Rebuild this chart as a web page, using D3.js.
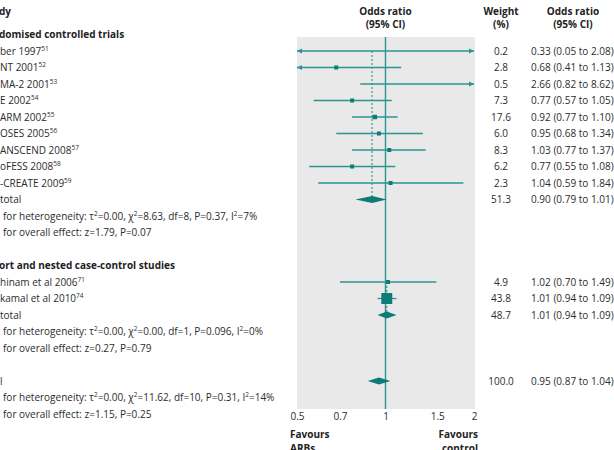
<!DOCTYPE html>
<html lang="en">
<head>
    <meta charset="utf-8">
    <title>Forest plot</title>
    <script src="https://d3js.org/d3.v7.min.js"></script>
    <style>
        body { margin: 0; background: #fff; }
        text { font-family: "Open Sans", sans-serif; font-size: 10px; fill: #2b2b2b; }
        .bold { font-weight: bold; fill: #222; }
    </style>
</head>
<body>
<div id="chart"></div>
<script>
    // Data (left labels are cropped in the original)
    const rctStudies = ["ber 1997", "NT 2001", "MA-2 2001", "E 2002", "ARM 2002", "OSES 2005", "ANSCEND 2008", "oFESS 2008", "-CREATE 2009"];
    const rctRefs = ["51", "52", "53", "54", "55", "56", "57", "58", "59"];
    const rctOR = [0.33, 0.68, 2.66, 0.77, 0.92, 0.95, 1.03, 0.77, 1.04];
    const rctLow = [0.05, 0.41, 0.82, 0.57, 0.77, 0.68, 0.77, 0.55, 0.59];
    const rctHigh = [2.08, 1.13, 8.62, 1.05, 1.10, 1.34, 1.37, 1.08, 1.84];
    const rctWeight = [0.2, 2.8, 0.5, 7.3, 17.6, 6.0, 8.3, 6.2, 2.3];

    const cohortStudies = ["hinam et al 2006", "kamal et al 2010"];
    const cohortRefs = ["71", "74"];
    const cohortOR = [1.02, 1.01];
    const cohortLow = [0.70, 0.94];
    const cohortHigh = [1.49, 1.09];
    const cohortWeight = [4.9, 43.8];

    // pooled: RCT subtotal, cohort subtotal, total
    const pooledLabels = ["total", "total", "l"];
    const pooledOR = [0.90, 1.01, 0.95];
    const pooledLow = [0.79, 0.94, 0.87];
    const pooledHigh = [1.01, 1.09, 1.04];
    const pooledWeight = [51.3, 48.7, 100.0];
    const heterogeneity = [
        "for heterogeneity: τ²=0.00, χ²=8.63, df=8, P=0.37, I²=7%",
        "for heterogeneity: τ²=0.00, χ²=0.00, df=1, P=0.096, I²=0%",
        "for heterogeneity: τ²=0.00, χ²=11.62, df=10, P=0.31, I²=14%"
    ];
    const overallEffect = [
        "for overall effect: z=1.79, P=0.07",
        "for overall effect: z=0.27, P=0.79",
        "for overall effect: z=1.15, P=0.25"
    ];
    const groupHeaders = ["domised controlled trials", "ort and nested case-control studies"];
    const tickValues = [0.5, 0.7, 1, 1.5, 2];

    const W = 614, H = 450;
    const svg = d3.select("#chart").append("svg")
        .attr("width", W).attr("height", H);

    const x = d3.scaleLog().domain([0.5, 2]).range([297, 474]);
    const y = d3.scaleLinear().domain([0, 23]).range([34.5, 414]);
    const fmt = d3.format(".2f");
    const colLine = "#2b9590", colMark = "#0e7b76";

    // build row list
    const rows = [];
    rows.push({k: 0, type: "header", text: groupHeaders[0]});
    rctStudies.forEach((s, i) => rows.push({k: i + 1, type: "study", text: s, ref: rctRefs[i],
        or: rctOR[i], lo: rctLow[i], hi: rctHigh[i], w: rctWeight[i]}));
    rows.push({k: 10, type: "pooled", text: pooledLabels[0], or: pooledOR[0], lo: pooledLow[0], hi: pooledHigh[0], w: pooledWeight[0]});
    rows.push({k: 11, type: "note", text: heterogeneity[0]});
    rows.push({k: 12, type: "note", text: overallEffect[0]});
    rows.push({k: 14, type: "header", text: groupHeaders[1]});
    cohortStudies.forEach((s, i) => rows.push({k: i + 15, type: "study", text: s, ref: cohortRefs[i],
        or: cohortOR[i], lo: cohortLow[i], hi: cohortHigh[i], w: cohortWeight[i]}));
    rows.push({k: 17, type: "pooled", text: pooledLabels[1], or: pooledOR[1], lo: pooledLow[1], hi: pooledHigh[1], w: pooledWeight[1]});
    rows.push({k: 18, type: "note", text: heterogeneity[1]});
    rows.push({k: 19, type: "note", text: overallEffect[1]});
    rows.push({k: 21, type: "pooled", text: pooledLabels[2], or: pooledOR[2], lo: pooledLow[2], hi: pooledHigh[2], w: pooledWeight[2]});
    rows.push({k: 22, type: "note", text: heterogeneity[2]});
    rows.push({k: 23, type: "note", text: overallEffect[2]});

    // plot background
    svg.append("rect")
        .attr("x", 297).attr("y", 37)
        .attr("width", 178).attr("height", 372)
        .attr("fill", "#e9e9e9");

    // reference line at 1
    svg.append("line")
        .attr("x1", x(1)).attr("x2", x(1))
        .attr("y1", 37).attr("y2", 409)
        .attr("stroke", colLine).attr("stroke-width", 1.4);

    // dashed subgroup lines
    [[1, 10, 0], [15, 17, 1]].forEach(([from, to, p]) => {
        svg.append("line")
            .attr("x1", x(pooledOR[p])).attr("x2", x(pooledOR[p]))
            .attr("y1", y(from)).attr("y2", y(to) - 3)
            .attr("stroke", colLine).attr("stroke-width", 1.1)
            .attr("stroke-dasharray", "2,2");
    });

    // header texts
    svg.append("text").attr("class", "bold").attr("x", -1).attr("y", 14.5).text("dy");
    const heads = [[x(1), "Odds ratio", "(95% CI)"], [501, "Weight", "(%)"], [573, "Odds ratio", "(95% CI)"]];
    heads.forEach(([cx, a, b]) => {
        svg.append("text").attr("class", "bold").attr("x", cx).attr("y", 14.5)
            .attr("text-anchor", "middle").text(a);
        svg.append("text").attr("class", "bold").attr("x", cx).attr("y", 28)
            .attr("text-anchor", "middle").text(b);
    });

    // left column text with superscript 2s
    function addSupText(sel, str) {
        const parts = str.split("²");
        parts.forEach((p, i) => {
            const t = sel.append("tspan").text(p);
            if (i > 0) t.attr("dy", 4);
            if (i < parts.length - 1) {
                sel.append("tspan").attr("font-size", "6.5px").attr("dy", -4).text("2");
            }
        });
    }

    rows.forEach(r => {
        const t = svg.append("text")
            .attr("x", r.type === "note" ? 3 : 0)
            .attr("y", y(r.k) + 3.5);
        if (r.type === "header") t.attr("class", "bold").attr("x", -1).text(r.text);
        else if (r.type === "study") {
            t.append("tspan").text(r.text);
            t.append("tspan").attr("font-size", "6.5px").attr("dy", -4).text(r.ref);
        } else if (r.type === "note") addSupText(t, r.text);
        else t.text(r.text);

        if (r.w !== undefined) {
            svg.append("text").attr("x", 501).attr("y", y(r.k) + 3.5)
                .attr("text-anchor", "middle").text(r.w.toFixed(1));
            svg.append("text").attr("x", 531).attr("y", y(r.k) + 3.5)
                .text(`${fmt(r.or)} (${fmt(r.lo)} to ${fmt(r.hi)})`);
        }
    });

    // study markers
    const [xmin, xmax] = x.domain();
    rows.filter(r => r.type === "study").forEach(r => {
        const cy = y(r.k);
        const lo = Math.max(r.lo, xmin), hi = Math.min(r.hi, xmax);
        svg.append("line")
            .attr("x1", x(lo)).attr("x2", x(hi))
            .attr("y1", cy).attr("y2", cy)
            .attr("stroke", colLine).attr("stroke-width", 1.3);
        if (r.lo < xmin) {
            svg.append("path")
                .attr("d", `M${x(xmin)},${cy} l5,-2.5 l0,5 Z`)
                .attr("fill", colLine);
        }
        if (r.hi > xmax) {
            svg.append("path")
                .attr("d", `M${x(xmax)},${cy} l-5,-2.5 l0,5 Z`)
                .attr("fill", colLine);
        }
        if (r.or >= xmin && r.or <= xmax) {
            const s = Math.max(4, r.w * 0.25);
            svg.append("rect")
                .attr("x", x(r.or) - s / 2).attr("y", cy - s / 2)
                .attr("width", s).attr("height", s)
                .attr("fill", colMark);
        }
    });

    // pooled diamonds
    rows.filter(r => r.type === "pooled").forEach(r => {
        const cy = y(r.k);
        svg.append("path")
            .attr("d", `M${x(r.lo)},${cy} L${x(r.or)},${cy - 3.5} L${x(r.hi)},${cy} L${x(r.or)},${cy + 3.5} Z`)
            .attr("fill", colMark);
    });

    // x axis
    const axis = svg.append("g")
        .attr("transform", "translate(0,409)")
        .call(d3.axisBottom(x).tickValues(tickValues).tickSize(0).tickPadding(4).tickFormat(d => String(d)));
    axis.select(".domain").remove();
    axis.selectAll("text").style("font-family", "'Open Sans', sans-serif").style("font-size", "10px").attr("fill", "#2b2b2b");

    // favours labels (bottom line is cropped in the reference too)
    svg.append("text").attr("class", "bold").attr("x", 290).attr("y", 438).text("Favours");
    svg.append("text").attr("class", "bold").attr("x", 290).attr("y", 451.5).text("ARBs");
    svg.append("text").attr("class", "bold").attr("x", 478).attr("y", 438).attr("text-anchor", "end").text("Favours");
    svg.append("text").attr("class", "bold").attr("x", 478).attr("y", 451.5).attr("text-anchor", "end").text("control");
</script>
</body>
</html>
